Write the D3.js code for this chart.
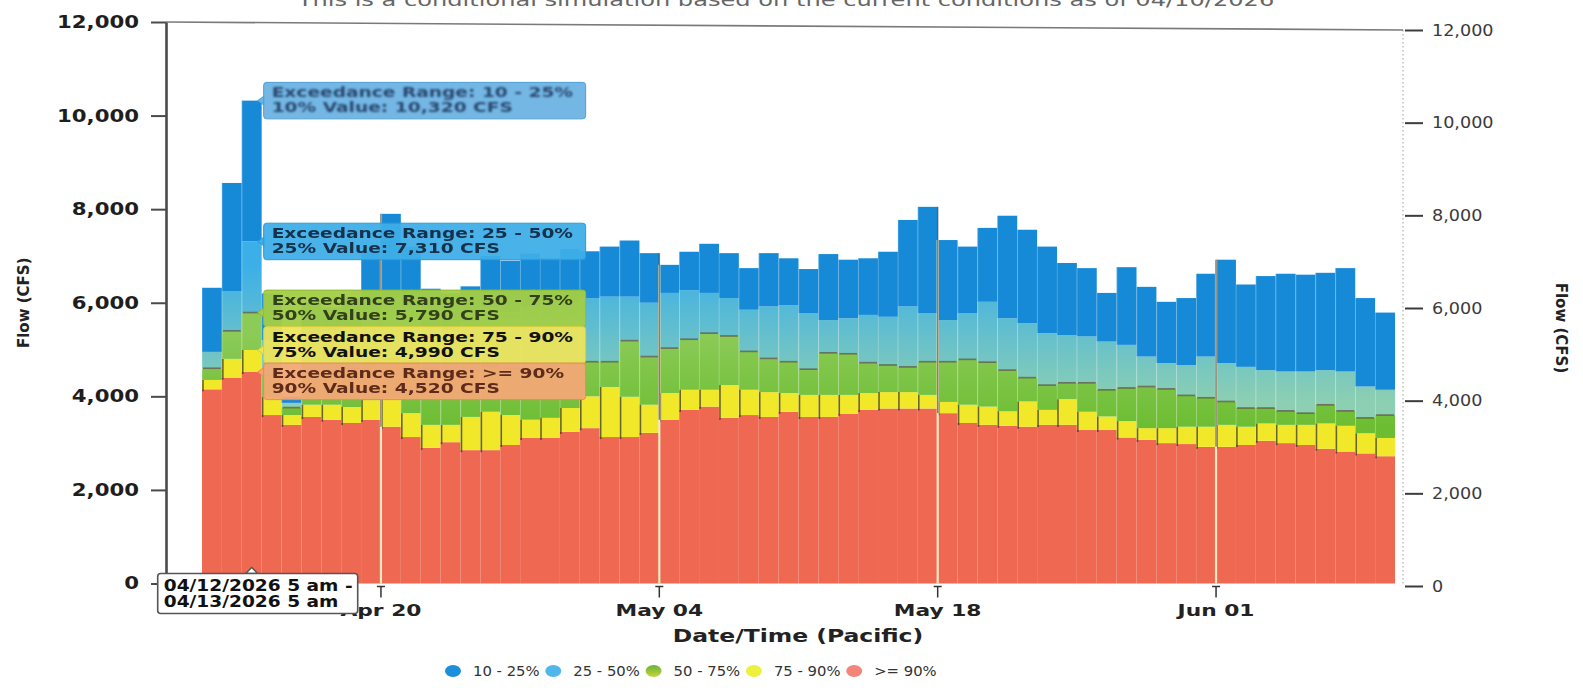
<!DOCTYPE html>
<html>
<head>
<meta charset="utf-8">
<script src="https://cdn.jsdelivr.net/npm/d3@7/dist/d3.min.js"></script>
<style>
  html, body { margin: 0; padding: 0; background: #fff; }
  svg { display: block; font-family: "DejaVu Sans", sans-serif; }
</style>
</head>
<body>
<svg id="chart" width="1583" height="698"></svg>
<script>
// Columns: one per 24-hour period, labelled by the day the period ends (5 am Pacific)
const periodEnd = [
  "2026-04-11","2026-04-12","2026-04-13","2026-04-14","2026-04-15","2026-04-16","2026-04-17","2026-04-18","2026-04-19","2026-04-20",
  "2026-04-21","2026-04-22","2026-04-23","2026-04-24","2026-04-25","2026-04-26","2026-04-27","2026-04-28","2026-04-29","2026-04-30",
  "2026-05-01","2026-05-02","2026-05-03","2026-05-04","2026-05-05","2026-05-06","2026-05-07","2026-05-08","2026-05-09","2026-05-10",
  "2026-05-11","2026-05-12","2026-05-13","2026-05-14","2026-05-15","2026-05-16","2026-05-17","2026-05-18","2026-05-19","2026-05-20",
  "2026-05-21","2026-05-22","2026-05-23","2026-05-24","2026-05-25","2026-05-26","2026-05-27","2026-05-28","2026-05-29","2026-05-30",
  "2026-05-31","2026-06-01","2026-06-02","2026-06-03","2026-06-04","2026-06-05","2026-06-06","2026-06-07","2026-06-08","2026-06-09"
];

// Exceedance flows (CFS) for each period
const flow90 = [4150,4400,4520,3600,3390,3560,3500,3430,3500,3350, 3130,2900,3020,2850,2850,2960,3110,3110,3240,3320,
                3130,3130,3220,3500,3710,3780,3540,3600,3560,3670, 3560,3560,3630,3710,3740,3740,3740,3640,3430,3390,
                3370,3350,3390,3390,3280,3280,3120,3070,3000,2980, 2920,2920,2960,3050,3000,2960,2880,2820,2780,2720];
const flow75 = [4350,4800,4990,3990,3600,3820,3820,3770,3920,3970, 3640,3390,3390,3560,3670,3600,3500,3540,3750,4000,
                4200,3990,3820,4070,4140,4140,4240,4140,4090,4070, 4030,4030,4030,4070,4090,4090,4030,3880,3820,3780,
                3680,3890,3710,3940,3670,3570,3470,3320,3320,3350, 3350,3390,3350,3420,3390,3390,3420,3370,3210,3110];
const flow50 = [4600,5400,5790,4450,3760,4500,4550,4600,4700,4800, 4750,4600,4500,4550,4650,4600,4550,4650,4700,4740,
                4740,5190,4850,5030,5220,5350,5290,4960,4810,4740, 4580,4930,4910,4720,4670,4630,4740,4740,4790,4730,
                4560,4400,4240,4290,4290,4140,4180,4210,4160,4020, 3970,3890,3750,3750,3690,3640,3820,3690,3540,3600];
const flow25 = [4950,6250,7310,5200,3860,5300,5400,5500,5700,6100, 5900,5500,5400,5600,5900,5800,5900,6000,6000,6100,
                6130,6130,6000,6210,6270,6210,6100,5850,5920,5950, 5780,5630,5670,5740,5700,5920,5780,5630,5780,6020,
                5670,5560,5350,5310,5280,5170,5100,4850,4710,4670, 4850,4710,4630,4560,4530,4530,4560,4530,4210,4140];
const flow10 = [6320,8560,10320,6200,3990,6000,5900,6100,7100,7900, 7200,6300,6200,6350,7000,6900,7050,6950,7150,7100,
                7200,7330,7060,6810,7090,7260,7060,6740,7060,6950, 6720,7040,6920,6950,7090,7770,8050,7340,7200,7600,
                7860,7560,7200,6850,6740,6210,6760,6340,6020,6100, 6620,6920,6390,6570,6620,6600,6640,6740,6100,5790];

const seriesNames = ["10 - 25%", "25 - 50%", "50 - 75%", "75 - 90%", ">= 90%"];
const seriesPct   = [10, 25, 50, 75, 90];
const flowTicks   = [0, 2000, 4000, 6000, 8000, 10000, 12000];
const dateTicks   = ["2026-04-20", "2026-05-04", "2026-05-18", "2026-06-01"];
const dateTickLabels = ["Apr 20", "May 04", "May 18", "Jun 01"];
const hoverIndex  = 2;   // period under the cursor
const titleText   = "This is a conditional simulation based on the current conditions as of 04/10/2026";

// ---------------------------------------------------------------
const svg = d3.select("#chart");
const FONT = "DejaVu Sans, sans-serif";
const parseDay = d3.timeParse("%Y-%m-%d");
const days = periodEnd.map(parseDay);

const x  = d3.scaleTime()
  .domain([days[0], d3.timeDay.offset(days[days.length - 1], 1)])
  .range([202, 1395]);
const yL = d3.scaleLinear().domain([0, 12000]).range([583.5, 22]);
const yR = d3.scaleLinear().domain([0, 12000]).range([586, 30]);

// widen text horizontally around its anchor point
function stretch(sel, sx) {
  sel.each(function () {
    const t = d3.select(this);
    const xx = +t.attr("x") || 0, yy = +t.attr("y") || 0;
    t.attr("x", 0).attr("y", 0).attr("transform", `translate(${xx},${yy}) scale(${sx},1)`);
  });
}

// ---- defs: gradients and blur
const defs = svg.append("defs");
const gLB = defs.append("linearGradient").attr("id", "gLightBlue")
  .attr("gradientUnits", "userSpaceOnUse").attr("x1", 0).attr("x2", 0)
  .attr("y1", yL(6800)).attr("y2", yL(3900));
gLB.append("stop").attr("offset", 0).attr("stop-color", "#3cafe8");
gLB.append("stop").attr("offset", 1).attr("stop-color", "#8ccfb2");
const gGr = defs.append("linearGradient").attr("id", "gGreen")
  .attr("gradientUnits", "userSpaceOnUse").attr("x1", 0).attr("x2", 0)
  .attr("y1", yL(5400)).attr("y2", yL(3300));
gGr.append("stop").attr("offset", 0).attr("stop-color", "#8ccb58");
gGr.append("stop").attr("offset", 1).attr("stop-color", "#6cbd32");
const gLeg = defs.append("linearGradient").attr("id", "gLegendGreen")
  .attr("x1", 0).attr("x2", 0).attr("y1", 0).attr("y2", 1);
gLeg.append("stop").attr("offset", 0).attr("stop-color", "#66b33a");
gLeg.append("stop").attr("offset", 1).attr("stop-color", "#c9d43a");
defs.append("filter").attr("id", "soft").append("feGaussianBlur").attr("stdDeviation", 0.55);
defs.append("filter").attr("id", "softer").append("feGaussianBlur").attr("stdDeviation", 0.9);

// bottom-to-top segment colours: >=90, 75-90, 50-75, 25-50, 10-25
const segFill = ["#ee6852", "#f2e82a", "url(#gGreen)", "url(#gLightBlue)", "#168ad7"];

// ---- title along the top edge of the page
const title = svg.append("text").attr("x", 786).attr("y", 6)
  .attr("text-anchor", "middle").attr("font-family", FONT).attr("font-size", 18)
  .attr("fill", "#666").text(titleText);
stretch(title, 1.34);

// ---- frame line along the top
svg.append("line")
  .attr("x1", 166).attr("y1", yL(12000)).attr("x2", 1403).attr("y2", yR(12000))
  .attr("stroke", "#7a7a7a").attr("stroke-width", 1.6);

// ---- stacked columns
const rows = days.map((d, i) => ({
  day: d, i,
  v: [0, flow90[i], flow75[i], flow50[i], flow25[i], flow10[i]]
}));

const barG = svg.append("g");
rows.forEach(r => {
  const x0 = x(r.day), x1 = x(d3.timeDay.offset(r.day, 1));
  for (let s = 0; s < 5; s++) {
    barG.append("rect")
      .attr("x", x0).attr("width", x1 - x0)
      .attr("y", yL(r.v[s + 1])).attr("height", yL(r.v[s]) - yL(r.v[s + 1]))
      .attr("fill", segFill[s]);
  }
  // faint column separator
  barG.append("line")
    .attr("x1", x0 + 0.3).attr("x2", x0 + 0.3)
    .attr("y1", yL(r.v[5])).attr("y2", yL(r.v[2]))
    .attr("stroke", "#fff").attr("stroke-opacity", 0.28).attr("stroke-width", 0.8);
  // dark edge on the 75-90 block
  barG.append("line")
    .attr("x1", x0 + 1).attr("x2", x0 + 1)
    .attr("y1", yL(r.v[2])).attr("y2", yL(r.v[1]) + 2)
    .attr("stroke", "#2e2e2e").attr("stroke-opacity", 0.7).attr("stroke-width", 1.6);
  // median marker
  barG.append("line")
    .attr("x1", x0 + 1).attr("x2", x1 - 1)
    .attr("y1", yL(r.v[3])).attr("y2", yL(r.v[3]))
    .attr("stroke", "#5b4a3a").attr("stroke-opacity", 0.7).attr("stroke-width", 1.6);
});

// ---- date grid lines drawn across the columns
dateTicks.map(parseDay).forEach(d => {
  const xi = x(d);
  const k = d3.bisector(r => r.day).left(rows, d);
  const right = rows[Math.min(k, rows.length - 1)];
  const left = rows[Math.max(k - 1, 0)];
  const top = Math.max(right.v[5], left.v[5]);
  svg.append("line").attr("x1", xi).attr("x2", xi)
    .attr("y1", yL(0)).attr("y2", yL(right.v[5]))
    .attr("stroke", "#f7e9c4").attr("stroke-width", 2.2);
  svg.append("line").attr("x1", xi).attr("x2", xi)
    .attr("y1", yL(top)).attr("y2", yL(right.v[1]))
    .attr("stroke", "#3a3a3a").attr("stroke-opacity", 0.6).attr("stroke-width", 1.5);
});

// ---- left axis
const gL = svg.append("g").attr("transform", "translate(166,0)")
  .call(d3.axisLeft(yL).tickValues(flowTicks).tickFormat(d3.format(","))
    .tickSize(15).tickSizeOuter(0).tickPadding(12));
gL.select(".domain").attr("stroke", "#4a4a4a").attr("stroke-width", 2.6);
gL.selectAll(".tick line").attr("stroke", "#4a4a4a").attr("stroke-width", 2);
gL.selectAll(".tick text").attr("font-family", FONT).attr("font-size", 17)
  .attr("font-weight", "bold").attr("fill", "#1e1e1e");
stretch(gL.selectAll(".tick text"), 1.25);

// ---- right axis
svg.append("line").attr("x1", 1403).attr("x2", 1403)
  .attr("y1", yR(12000)).attr("y2", yR(0))
  .attr("stroke", "#777").attr("stroke-opacity", 0.6)
  .attr("stroke-width", 1.2).attr("stroke-dasharray", "1.5,2.5");
const gR = svg.append("g").attr("transform", "translate(1405,0)")
  .call(d3.axisRight(yR).tickValues(flowTicks).tickFormat(d3.format(","))
    .tickSize(18).tickSizeOuter(0).tickPadding(9));
gR.select(".domain").remove();
gR.selectAll(".tick line").attr("stroke", "#3c3c3c").attr("stroke-width", 2);
gR.selectAll(".tick text").attr("font-family", FONT).attr("font-size", 16)
  .attr("fill", "#3a3a3a");
stretch(gR.selectAll(".tick text"), 1.1);

// ---- axis titles
svg.append("text").attr("transform", `translate(29,${(yL(0) + yL(12000)) / 2}) rotate(-90)`)
  .attr("text-anchor", "middle").attr("font-family", FONT).attr("font-size", 15)
  .attr("font-weight", "bold").attr("fill", "#222").text("Flow (CFS)");
svg.append("text").attr("transform", `translate(1556,${(yR(0) + yR(12000)) / 2 + 20}) rotate(90)`)
  .attr("text-anchor", "middle").attr("font-family", FONT).attr("font-size", 15)
  .attr("font-weight", "bold").attr("fill", "#222").text("Flow (CFS)");

// ---- x axis ticks and labels
const gX = svg.append("g");
dateTicks.map(parseDay).forEach((d, i) => {
  const xi = x(d);
  gX.append("line").attr("x1", xi).attr("x2", xi).attr("y1", yL(0) + 3).attr("y2", yL(0) + 14)
    .attr("stroke", "#333").attr("stroke-width", 1.5);
  gX.append("line").attr("x1", xi - 4).attr("x2", xi + 4).attr("y1", yL(0) + 3).attr("y2", yL(0) + 3)
    .attr("stroke", "#333").attr("stroke-width", 1.5);
  const t = gX.append("text").attr("x", xi).attr("y", yL(0) + 32)
    .attr("text-anchor", "middle").attr("font-family", FONT).attr("font-size", 16)
    .attr("font-weight", "bold").attr("fill", "#222").text(dateTickLabels[i]);
  stretch(t, 1.36);
});
const xTitle = svg.append("text").attr("x", 798).attr("y", 642)
  .attr("text-anchor", "middle").attr("font-family", FONT).attr("font-size", 17)
  .attr("font-weight", "bold").attr("fill", "#222").text("Date/Time (Pacific)");
stretch(xTitle, 1.38);

// ---- legend
const legendColors = ["#1b8edc", "#4fb7ea", "url(#gLegendGreen)", "#edf03c", "#f3867a"];
const legG = svg.append("g").attr("transform", "translate(453,671)");
seriesNames.forEach((name, i) => {
  const g = legG.append("g").attr("transform", `translate(${i * 100.3},0)`);
  g.append("ellipse").attr("rx", 8).attr("ry", 6).attr("fill", legendColors[i]);
  const t = g.append("text").attr("x", 20).attr("y", 5).attr("font-family", FONT)
    .attr("font-size", 14).attr("fill", "#333").text(name);
  stretch(t, 1.06);
});

// ---- hover tooltips for the selected period
const fmt = d3.format(",");
const hr = rows[hoverIndex];
const hx0 = x(hr.day), hx1 = x(d3.timeDay.offset(hr.day, 1));
const tipValues = [hr.v[5], hr.v[4], hr.v[3], hr.v[2], hr.v[1]];
const tipStyle = [
  { fill: "#6db3e4", stroke: "#4f9fd6", text: "#2b4a70", filter: "url(#softer)" },
  { fill: "#3eaee8", stroke: "#2c9bd8", text: "#14304c", filter: "url(#soft)" },
  { fill: "#a2cd46", stroke: "#8fbd34", text: "#33401c", filter: "url(#soft)" },
  { fill: "#ece45c", stroke: "#d6ce3c", text: "#111111", filter: null },
  { fill: "#f2a874", stroke: "#e98a5a", text: "#5d2c1a", filter: "url(#soft)" }
];
const boxH = 36.5, boxW = 322;

// spread overlapping boxes around their anchors
let groups = tipValues.map((v, i) => ({ items: [i], anchors: [yL(v)] }));
const gTop = g => d3.mean(g.anchors) - g.items.length * boxH / 2;
let merged = true;
while (merged) {
  merged = false;
  for (let i = 0; i < groups.length - 1; i++) {
    const a = groups[i], b = groups[i + 1];
    if (gTop(a) + a.items.length * boxH > gTop(b)) {
      groups.splice(i, 2, { items: a.items.concat(b.items), anchors: a.anchors.concat(b.anchors) });
      merged = true;
      break;
    }
  }
}
const boxTop = [];
groups.forEach(g => g.items.forEach((idx, j) => { boxTop[idx] = gTop(g) + j * boxH; }));

const tipG = svg.append("g");
tipValues.forEach((v, i) => {
  const st = tipStyle[i];
  const bx = hx1 + 2, by = boxTop[i];
  const ay = yL(v);
  const g = tipG.append("g");
  // callout pointer
  const py = Math.max(by + 5, Math.min(by + boxH - 5, ay));
  g.append("path")
    .attr("d", `M${bx + 1},${py - 5} L${hx1 - 4},${ay} L${bx + 1},${py + 5} Z`)
    .attr("fill", st.fill).attr("stroke", st.stroke).attr("stroke-width", 1);
  g.append("rect").attr("x", bx).attr("y", by).attr("width", boxW).attr("height", boxH)
    .attr("rx", 3).attr("fill", st.fill).attr("fill-opacity", 0.95)
    .attr("stroke", st.stroke).attr("stroke-width", 1);
  const lines = [`Exceedance Range: ${seriesNames[i]}`, `${seriesPct[i]}% Value: ${fmt(v)} CFS`];
  lines.forEach((ln, j) => {
    const t = g.append("text").attr("x", bx + 8).attr("y", by + 15 + j * 15)
      .attr("font-family", FONT).attr("font-size", 13.5).attr("font-weight", "bold")
      .attr("fill", st.text).attr("filter", st.filter).text(ln);
    stretch(t, 1.38);
  });
});

// ---- x crosshair label for the selected period
const fmtTip = d3.timeFormat("%m/%d/%Y");
const startDay = d3.timeDay.offset(hr.day, -1);
const cx = (hx0 + hx1) / 2;
const lbW = 200, lbH = 40, lbTop = yL(0) - 10;
const lbG = svg.append("g");
lbG.append("path")
  .attr("d", `M${cx - 6},${lbTop} L${cx},${lbTop - 6} L${cx + 6},${lbTop} Z`)
  .attr("fill", "#fff").attr("stroke", "#555").attr("stroke-width", 1.3);
lbG.append("rect").attr("x", cx - lbW / 2 + 6).attr("y", lbTop).attr("width", lbW).attr("height", lbH)
  .attr("rx", 3).attr("fill", "#fff").attr("stroke", "#555").attr("stroke-width", 1.6);
[`${fmtTip(startDay)} 5 am -`, `${fmtTip(hr.day)} 5 am`].forEach((ln, j) => {
  const t = lbG.append("text").attr("x", cx - lbW / 2 + 12).attr("y", lbTop + 17 + j * 16)
    .attr("font-family", FONT).attr("font-size", 15).attr("font-weight", "bold")
    .attr("fill", "#111").text(ln);
  stretch(t, 1.24);
});
</script>
</body>
</html>
